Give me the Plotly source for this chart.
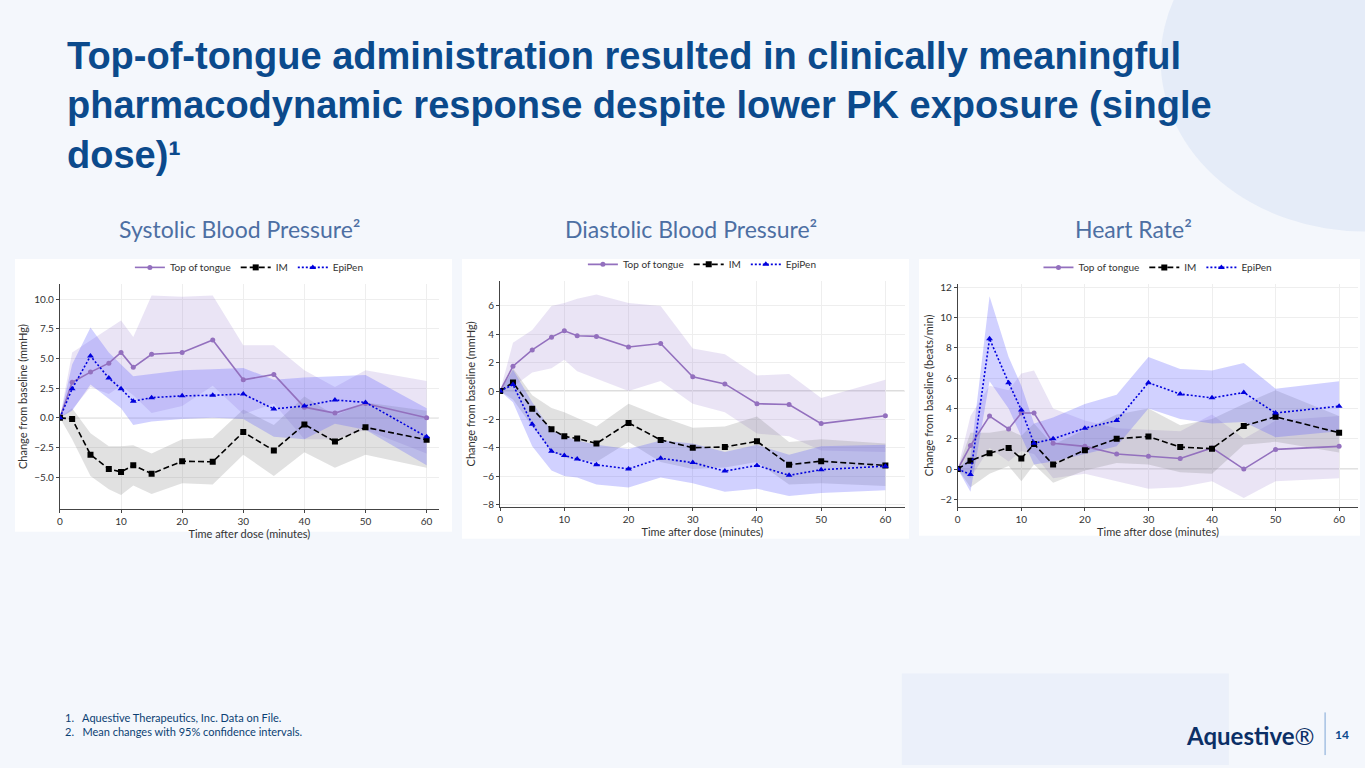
import plotly.graph_objects as go

t = [0, 2, 5, 8, 10, 12, 15, 20, 25, 30, 35, 40, 45, 50, 60]

panels = {
    "sbp": {
        "Top of tongue": ([0, 3.0, 3.85, 4.6, 5.5, 4.25, 5.35, 5.5, 6.55, 3.2, 3.65, 0.9, 0.4, 1.2, 0.0],
                          [0, 5.5, 6.5, 7.5, 8.2, 6.8, 10.3, 10.2, 10.3, 6.1, 6.1, 4.0, 2.6, 4.0, 3.1],
                          [0, 0.7, 2.6, 2.0, 2.7, 1.9, 0.4, 1.0, 2.7, 0.3, 1.2, -1.8, -1.8, -1.0, -3.0]),
        "IM": ([0, -0.1, -3.1, -4.3, -4.55, -4.0, -4.7, -3.65, -3.7, -1.2, -2.75, -0.55, -2.0, -0.8, -1.85],
               [0, 0.8, -1.3, -2.4, -2.4, -2.3, -3.0, -1.8, -1.7, 0.7, -0.6, 1.8, 0.2, 1.3, 0.6],
               [0, -1.8, -4.9, -6.0, -6.5, -5.7, -6.4, -5.5, -5.6, -3.1, -4.9, -2.9, -4.2, -3.1, -4.2]),
        "EpiPen": ([0, 2.45, 5.2, 3.35, 2.45, 1.4, 1.7, 1.85, 1.9, 2.0, 0.75, 1.0, 1.5, 1.3, -1.6],
                   [0, 4.5, 7.6, 5.5, 4.5, 3.5, 3.7, 4.0, 4.1, 4.2, 3.2, 3.4, 3.5, 3.6, 0.8],
                   [0, 0.6, 2.8, 1.6, 0.8, -0.6, -0.3, -0.1, 0.0, -0.1, -1.6, -1.8, -0.5, -1.0, -4.0]),
    },
    "dbp": {
        "Top of tongue": ([0, 1.75, 2.9, 3.8, 4.25, 3.9, 3.85, 3.1, 3.35, 1.0, 0.5, -0.9, -0.95, -2.3, -1.75],
                          [0, 3.4, 4.3, 6.0, 6.2, 6.5, 6.8, 6.2, 6.0, 3.0, 2.6, 1.1, 1.2, -0.5, 0.8],
                          [0, 0.3, 1.3, 1.6, 2.2, 1.4, 0.9, 0.0, 0.7, -0.9, -1.5, -3.0, -3.2, -4.2, -4.3]),
        "IM": ([0, 0.6, -1.25, -2.7, -3.2, -3.35, -3.7, -2.25, -3.45, -4.0, -3.95, -3.55, -5.2, -4.95, -5.25],
               [0, 1.6, -0.3, -1.2, -1.5, -1.9, -2.5, -0.9, -1.8, -2.6, -2.5, -1.8, -3.6, -3.4, -3.7],
               [0, -0.6, -2.5, -4.2, -4.7, -4.8, -5.0, -3.6, -5.0, -5.5, -5.4, -5.0, -6.6, -6.5, -6.7]),
        "EpiPen": ([0, 0.45, -2.35, -4.25, -4.55, -4.8, -5.2, -5.5, -4.75, -5.05, -5.65, -5.25, -5.95, -5.55, -5.3],
                   [0, 1.5, -0.8, -2.8, -3.2, -3.5, -3.8, -4.1, -3.5, -3.7, -4.3, -3.8, -4.5, -3.9, -3.8],
                   [0, -0.8, -3.9, -5.6, -6.0, -6.1, -6.6, -6.8, -6.1, -6.5, -7.1, -6.9, -7.4, -7.2, -7.0]),
    },
    "hr": {
        "Top of tongue": ([0, 1.55, 3.5, 2.65, 3.7, 3.7, 1.7, 1.5, 1.0, 0.85, 0.7, 1.4, 0.0, 1.3, 1.5],
                          [0, 3.5, 5.5, 5.2, 6.3, 6.5, 4.0, 3.2, 2.7, 2.6, 2.5, 3.6, 2.0, 3.2, 3.5],
                          [0, -0.6, 1.4, 0.5, 1.2, 1.0, -0.6, -0.3, -0.8, -1.3, -1.2, -0.8, -1.9, -0.8, -0.6]),
        "IM": ([0, 0.55, 1.05, 1.4, 0.7, 1.65, 0.3, 1.25, 2.0, 2.15, 1.45, 1.35, 2.85, 3.45, 2.4],
               [0, 2.4, 2.4, 2.6, 2.2, 3.0, 1.6, 2.6, 3.6, 4.0, 2.9, 3.3, 4.3, 5.2, 3.5],
               [0, -1.2, -0.3, 0.2, -0.8, 0.3, -0.9, -0.1, 0.4, 0.3, -0.2, -0.3, 1.6, 1.8, 1.1]),
        "EpiPen": ([0, -0.35, 8.6, 5.7, 3.9, 1.7, 2.0, 2.7, 3.2, 5.7, 4.95, 4.7, 5.05, 3.7, 4.15],
                   [0, 0.8, 11.4, 7.4, 5.5, 3.0, 3.4, 4.3, 4.9, 7.4, 6.6, 6.5, 7.0, 5.3, 5.8],
                   [0, -1.5, 5.8, 4.0, 2.2, 0.3, 0.5, 1.0, 1.5, 4.0, 3.3, 3.0, 3.1, 2.1, 2.5]),
    },
}

style = {
    "Top of tongue": dict(color="#9370be", fill="rgba(160,130,210,0.22)", dash="solid", symbol="circle", size=5),
    "IM": dict(color="black", fill="rgba(120,120,120,0.22)", dash="6px,3px", symbol="square", size=6),
    "EpiPen": dict(color="#0000dd", fill="rgba(90,90,255,0.28)", dash="2px,2px", symbol="triangle-up", size=6),
}

# (x domain, y domain, x range, y range, ticks, y title, panel box px)
geom = {
    "sbp": ([0.0418, 0.320], [0.336, 0.631], [0, 62], [-7.67, 11.25],
            [-5, -2.5, 0, 2.5, 5, 7.5, 10], "Change from baseline (mmHg)", (12, 258, 450, 533)),
    "dbp": ([0.365, 0.662], [0.339, 0.635], [0, 63], [-8.16, 7.75],
            [-8, -6, -4, -2, 0, 2, 4, 6], "Change from baseline (mmHg)", (460, 258, 908, 540)),
    "hr": ([0.701, 0.995], [0.339, 0.631], [0, 63], [-2.48, 12.2],
           [-2, 0, 2, 4, 6, 8, 10, 12], "Change from baseline (beats/min)", (918, 258, 1360, 537)),
}

fig = go.Figure()
layout = {}
shapes = []
for i, key in enumerate(["sbp", "dbp", "hr"]):
    n = "" if i == 0 else str(i + 1)
    xd, yd, xr, yr, ticks, ytitle, box = geom[key]
    leg = "legend" if i == 0 else "legend" + n
    for name, (mean, up, lo) in panels[key].items():
        s = style[name]
        fig.add_trace(go.Scatter(x=t + t[::-1], y=up + lo[::-1], fill="toself", fillcolor=s["fill"],
                                 line=dict(width=0), hoverinfo="skip", showlegend=False,
                                 xaxis="x" + n, yaxis="y" + n))
    for name, (mean, up, lo) in panels[key].items():
        s = style[name]
        fig.add_trace(go.Scatter(x=t, y=mean, name=name, mode="lines+markers",
                                 line=dict(color=s["color"], dash=s["dash"], width=1.6),
                                 marker=dict(symbol=s["symbol"], size=s["size"], color=s["color"]),
                                 xaxis="x" + n, yaxis="y" + n, legend=leg))
    ax = dict(showline=True, linecolor="#444", ticks="outside", ticklen=3, showgrid=True,
              gridcolor="#eeeeee", zeroline=False, tickfont=dict(size=10, color="#333"))
    layout["xaxis" + n] = dict(ax, domain=xd, range=xr, tickvals=[0, 10, 20, 30, 40, 50, 60],
                               anchor="y" + n, title=dict(text="Time after dose (minutes)", standoff=2,
                                                          font=dict(size=11, color="#333")))
    layout["yaxis" + n] = dict(ax, domain=yd, range=yr, tickvals=ticks, anchor="x" + n,
                               tickformat=".1f" if key == "sbp" else "d",
                               title=dict(text=ytitle, standoff=4, font=dict(size=11, color="#333")))
    layout[leg] = dict(orientation="h", x=(xd[0] + xd[1]) / 2, xanchor="center", y=yd[1] + 0.003,
                       yanchor="bottom", bgcolor="rgba(0,0,0,0)", font=dict(size=10, color="#333"))
    x0, y0, x1, y1 = box
    shapes.append(dict(type="rect", xref="paper", yref="paper", x0=x0 / 1365, x1=x1 / 1365,
                       y0=1 - y1 / 768, y1=1 - y0 / 768, fillcolor="white", line=dict(width=0), layer="below"))
    shapes.append(dict(type="line", xref="x" + n, yref="y" + n, x0=0, x1=xr[1], y0=0, y1=0,
                       line=dict(color="#bbbbbb", width=1), layer="below"))

# decorative background
shapes.insert(0, dict(type="circle", xref="paper", yref="paper", x0=0.85, x1=1.15, y0=0.7, y1=1.15,
                      fillcolor="rgba(200,215,240,0.35)", line=dict(width=0), layer="below"))
shapes.insert(0, dict(type="rect", xref="paper", yref="paper", x0=0.66, x1=0.9, y0=0, y1=0.12,
                      fillcolor="rgba(225,233,247,0.5)", line=dict(width=0), layer="below"))
shapes.append(dict(type="line", xref="paper", yref="paper", x0=1325 / 1365, x1=1325 / 1365,
                   y0=1 - 758 / 768, y1=1 - 715 / 768, line=dict(color="#7fa6d6", width=1)))

fig.update_layout(**layout)
fig.update_layout(
    width=1365, height=768, margin=dict(l=0, r=0, t=0, b=0),
    paper_bgcolor="#f4f7fc", plot_bgcolor="rgba(0,0,0,0)",
    font=dict(family="Lato, DejaVu Sans"), shapes=shapes,
)

annotations = [
    dict(x=62 / 1365, y=1 - 30 / 768, xanchor="left", yanchor="top", align="left",
         text="<b>Top-of-tongue administration resulted in clinically meaningful<br>"
              "pharmacodynamic response despite lower PK exposure (single<br>dose)¹</b>",
         font=dict(size=38, color="#0b4a8c", family="Liberation Sans, Arial")),
    dict(x=238 / 1365, y=1 - 228 / 768, text="Systolic Blood Pressure²", font=dict(size=23, color="#4d6fa3")),
    dict(x=690 / 1365, y=1 - 228 / 768, text="Diastolic Blood Pressure²", font=dict(size=23, color="#4d6fa3")),
    dict(x=1133 / 1365, y=1 - 228 / 768, text="Heart Rate²", font=dict(size=23, color="#4d6fa3")),
    dict(x=60 / 1365, y=1 - 727 / 768, xanchor="left", align="left",
         text="1.   Aquestive Therapeutics, Inc. Data on File.<br>2.   Mean changes with 95% confidence intervals.",
         font=dict(size=11, color="#0b3f73")),
    dict(x=1250 / 1365, y=1 - 738 / 768, text="<b>Aquestive</b>®", font=dict(size=24, color="#0b2f66")),
    dict(x=1342 / 1365, y=1 - 737 / 768, text="<b>14</b>", font=dict(size=12, color="#0b4a8c")),
]
for a in annotations:
    a.setdefault("xref", "paper")
    a.setdefault("yref", "paper")
    a.setdefault("xanchor", "center")
    a.setdefault("yanchor", "middle")
    a.setdefault("showarrow", False)
fig.update_layout(annotations=annotations)

fig.write_html("out.html", config={"displayModeBar": False},
               post_script="document.body.style.margin='0';document.body.style.overflow='hidden';")
